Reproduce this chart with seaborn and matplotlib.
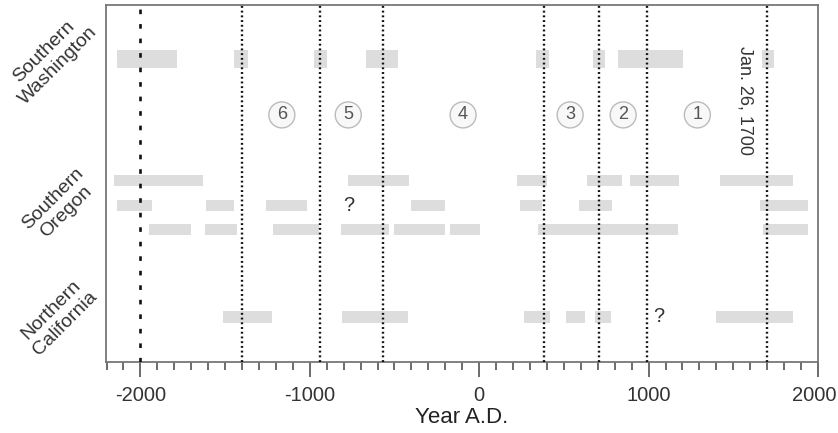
import matplotlib
matplotlib.use("Agg")
import matplotlib.pyplot as plt
from matplotlib.ticker import MultipleLocator
from matplotlib.transforms import ScaledTranslation
import seaborn as sns

# ---- data (years A.D.) ----
region_labels = ["Southern\nWashington", "Southern\nOregon", "Northern\nCalifornia"]

wa_start = [-2140, -1445, -973, -669, 335, 669, 819, 1670]
wa_end   = [-1782, -1366, -900, -477, 413, 744, 1201, 1742]

or1_start = [-2156, -772, 226, 636, 888, 1419]
or1_end   = [-1632, -412, 403, 846, 1177, 1853]

or2_start = [-2136, -1613, -1258, -403, 243, 592, 1660]
or2_end   = [-1933, -1445, -1018, -201, 370, 784, 1941]

or3_start = [-1947, -1617, -1215, -815, -502, -175, 350, 1676]
or3_end   = [-1701, -1431, -943, -530, -201, 6, 1171, 1941]

ca_start = [-1510, -807, 262, 514, 685, 1398]
ca_end   = [-1225, -418, 419, 622, 778, 1853]

event_dotted = [-1400, -940, -570, 380, 705, 990, 1700]
event_dashed = [-2000]

event_numbers = ["6", "5", "4", "3", "2", "1"]
event_number_x = [-1165, -773, -95, 537, 850, 1288]

question_x = [-770, 1063]

# ---- style ----
sns.set_theme(style="white")
plt.rcParams["font.family"] = ["Liberation Sans", "DejaVu Sans"]

fig = plt.figure(figsize=(8.38, 4.33), dpi=100)
ax = fig.add_axes([0.1265, 0.164, 0.9761 - 0.1265, 0.9885 - 0.164])

bar_color = "#dddddd"
# lane positions (y axis, inverted)
y_wa, y_or1, y_or2, y_or3, y_ca = 2.25, 7.33, 8.35, 9.35, 13.0

def lane(starts, ends, y, h):
    widths = [e - s for s, e in zip(starts, ends)]
    ax.barh([y] * len(starts), widths, left=starts, height=h,
            color=bar_color, edgecolor="none", zorder=1)

lane(wa_start, wa_end, y_wa, 0.74)
lane(or1_start, or1_end, y_or1, 0.46)
lane(or2_start, or2_end, y_or2, 0.46)
lane(or3_start, or3_end, y_or3, 0.46)
lane(ca_start, ca_end, y_ca, 0.5)

for x in event_dotted:
    ax.axvline(x, color="#111111", lw=1.7, linestyle=(0, (0.8, 1.2)), zorder=3)
for x in event_dashed:
    ax.axvline(x, color="#111111", lw=1.9, linestyle=(0, (1.75, 3.75)), zorder=3)

y_circ = 4.58
for t, x in zip(event_numbers, event_number_x):
    ax.text(x, y_circ, t, ha="center", va="center", fontsize=13, color="#555555",
            bbox=dict(boxstyle="circle,pad=0.25", fc="#f8f8f8", ec="#bbbbbb", lw=1.0),
            zorder=4)

ax.text(1571, 3.96, "Jan. 26, 1700", rotation=-90, ha="center", va="center",
        fontsize=13, color="#333333", zorder=4)

ax.text(question_x[0], y_or2, "?", ha="center", va="center", fontsize=14.5, color="#333333")
ax.text(question_x[1], y_ca, "?", ha="center", va="center", fontsize=14.5, color="#333333")

ax.set_xlim(-2203, 2000)
ax.set_ylim(14.875, 0)

ax.set_xticks([-2000, -1000, 0, 1000, 2000])
ax.set_xticklabels(["-2000", "-1000", "0", "1000", "2000"])
ax.xaxis.set_minor_locator(MultipleLocator(100))
ax.tick_params(axis="x", which="major", length=11, width=1.1, color="#444444",
               labelsize=14.5, labelcolor="#333333", pad=6, bottom=True)
ax.tick_params(axis="x", which="minor", length=5.5, width=1.1, color="#444444", bottom=True)

# keep the last tick label inside the canvas
last = ax.get_xticklabels()[-1]
last.set_transform(last.get_transform() + ScaledTranslation(-4 / 100, 0, fig.dpi_scale_trans))

ax.set_yticks([y_wa, y_or2, y_ca])
ax.set_yticklabels(region_labels, rotation=45, ha="right", va="center",
                   multialignment="center", fontsize=14, color="#333333")
ax.tick_params(axis="y", length=0, pad=4)

ax.set_xlabel("Year A.D.", fontsize=16, color="#222222", labelpad=2)

for s in ax.spines.values():
    s.set_color("#777777")
    s.set_linewidth(1.3)

fig.savefig("out.png", dpi=100)
